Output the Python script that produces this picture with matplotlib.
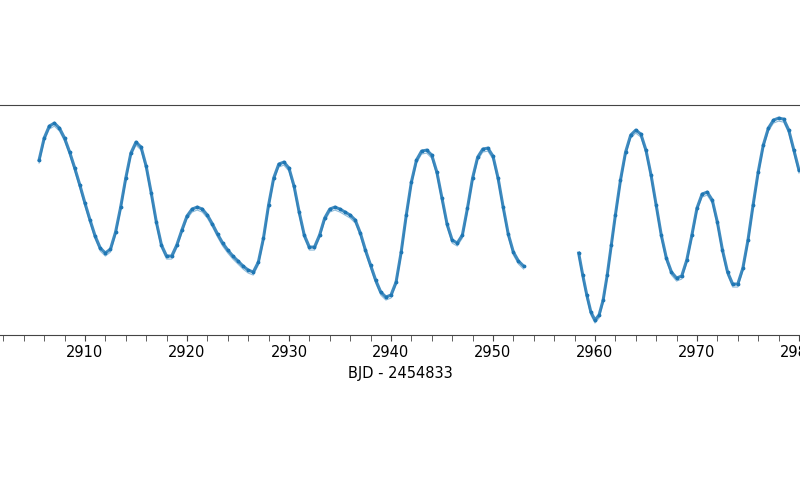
import matplotlib
matplotlib.use("Agg")
import matplotlib.pyplot as plt
from matplotlib.ticker import MultipleLocator

# Segment 1 (time, flux in plotted units; larger = fainter)
t1 = [2905.5,2906.0,2906.5,2907.0,2907.5,2908,2908.5,2909,2909.5,2910,2910.5,2911,2911.5,2912,
      2912.5,2913,2913.5,2914,2914.5,2915,2915.5,2916,2916.5,2917,2917.5,2918,2918.5,
      2919,2919.5,2920,2920.5,2921,2921.5,2922,2922.5,2923,2923.5,2924,2924.5,2925,2925.5,2926,2926.5,
      2927,2927.5,2928,2928.5,2929,2929.5,2930,2930.5,2931,2931.5,2932,2932.5,2933,2933.5,2934,2934.5,
      2935,2935.5,2936,2936.5,2937,2937.5,2938,2938.5,2939,2939.5,2940,2940.5,2941,2941.5,2942,2942.5,
      2943,2943.5,2944,2944.5,2945,2945.5,2946,2946.5,2947,2947.5,2948,2948.5,2949,2949.5,
      2950,2950.5,2951,2951.5,2952,2952.5,2953]
f1 = [160,138,126,123,128,138,152,168,185,203,220,236,248,253,
      249,232,207,178,153,142,147,166,193,222,245,256,256,
      245,230,216,209,207,209,215,224,234,243,250,256,261,266,270,272,
      262,238,205,178,164,162,168,186,212,235,247,247,235,218,209,207,
      209,212,215,220,233,250,265,280,292,297,295,282,252,215,182,160,
      151,150,155,172,198,224,240,243,235,208,178,157,149,148,
      156,178,207,234,252,261,266]
# Segment 2
t2 = [2958.4,2958.8,2959.2,2959.6,2960.0,2960.4,2960.8,2961.2,2961.6,2962,2962.5,2963,2963.5,2964,
      2964.5,2965,2965.5,2966,2966.5,2967,2967.5,2968,2968.5,2969,2969.5,2970,2970.5,2971,
      2971.5,2972,2972.5,2973,2973.5,2974,2974.5,2975,2975.5,2976,2976.5,2977,2977.5,2978,2978.5,
      2979,2979.5,2980]
f2 = [253,275,295,312,320,315,300,275,245,215,180,152,135,130,
      134,150,175,205,235,258,272,278,276,260,235,208,194,192,
      200,222,250,272,284,284,268,240,205,172,145,128,120,118,119,
      130,150,170]

fig = plt.figure(figsize=(8, 4.8), dpi=100)
ax = fig.add_axes([0, 0.302, 1, 0.479])
c = "#1f77b4"
for t, f in ((t1, f1), (t2, f2)):
    ax.plot(t, f, color=c, lw=2.2, alpha=0.85)
    ax.plot(t, [v + 3 for v in f], color=c, lw=0.8, alpha=0.5)
    ax.scatter(t, f, s=3, color=c)
ax.set_xlim(2901.67, 2980.1)
ax.set_ylim(335, 105)
ax.xaxis.set_major_locator(MultipleLocator(10))
ax.xaxis.set_minor_locator(MultipleLocator(2))
ax.tick_params(axis="x", which="both", length=4, color="#444444", labelsize=10.5)
ax.set_yticks([])
for s in ("left", "right"):
    ax.spines[s].set_visible(False)
for s in ("top", "bottom"):
    ax.spines[s].set_color("#444444")
ax.set_xlabel("BJD - 2454833", fontsize=10.5)
fig.savefig("out.png", dpi=100)
